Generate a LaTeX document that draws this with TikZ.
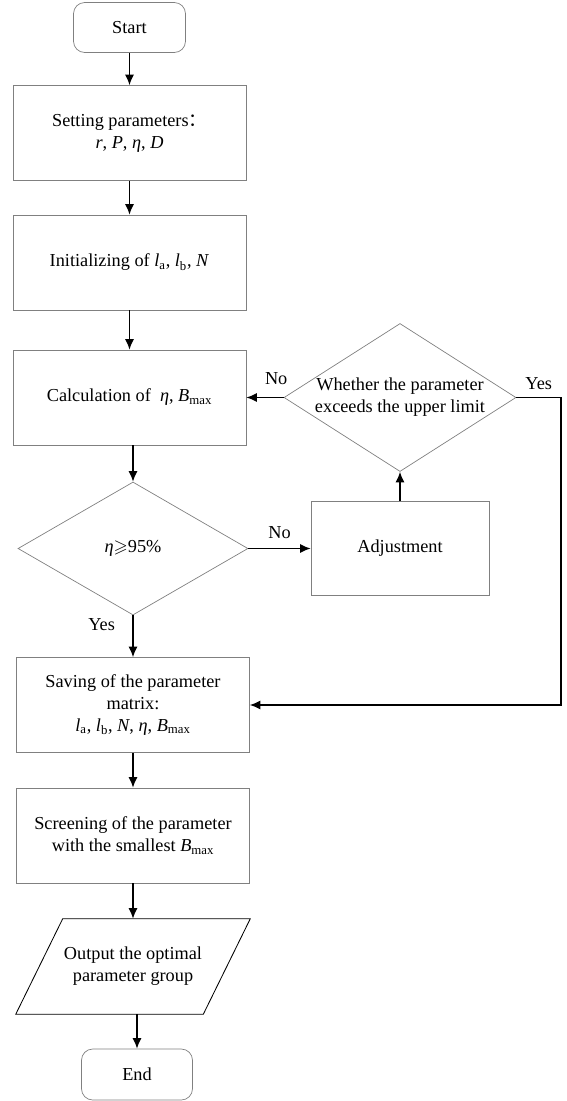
\documentclass[tikz,border=0pt]{standalone}
\usepackage{amssymb}
\usepackage{fontspec}
\setmainfont{Liberation Serif}
\newfontfamily\cjk{Noto Sans CJK SC}
\usetikzlibrary{arrows.meta,positioning,shapes.geometric}

\tikzset{
  startstop/.style={draw=gray, line width=0.5pt, rounded corners=8pt, minimum width=2.8cm, minimum height=1.25cm},
  process/.style={draw=gray, line width=0.5pt, minimum width=5.825cm, minimum height=2.375cm, align=center},
  decision/.style={draw=gray, line width=0.5pt, diamond, inner sep=0pt, align=center},
  iobody/.style={minimum width=4.675cm, minimum height=2.375cm, inner sep=0pt, align=center},
  flow/.style={->, line width=1pt}
}

\begin{document}
\begin{tikzpicture}[>={Latex[length=7.5pt,width=6.5pt]}, font=\fontsize{13}{15.6}\selectfont]
\useasboundingbox (0,0) rectangle (14.175,-27.525);
\node[startstop] (start) at (3.2375,-0.6875) {Start};
\node[process] (setpar) [node distance=2.6375cm, below of = start] {Setting parameters{\cjk ：}\\\textit{r}, \textit{P}, \textit{η}, \textit{D}};
\node[process] (init) [node distance=3.2375cm, below of = setpar] {Initializing of \textit{l}\textsubscript{a}, \textit{l}\textsubscript{b}, \textit{N}};
\node[process] (calc) [node distance=3.375cm, below of = init] {Calculation of \ \textit{η}, \textit{B}\textsubscript{max}};
\node[decision, minimum width=5.75cm, minimum height=3.325cm] (d1) [node distance=3.775cm, below of = calc, xshift=0.0875cm] {\textit{η}$\geqslant$95\%};
\node[process, minimum width=4.45cm, minimum height=2.35cm] (adjust) [node distance=6.675cm, right of = d1] {Adjustment};
\node[decision, aspect=1.57, minimum width=5.8cm, minimum height=3.7cm] (d2) [node distance=3.775cm, above of = adjust] {Whether the parameter\\exceeds the upper limit};
\node[process] (save) [node distance=3.9125cm, below of = d1] {Saving of the parameter\\matrix:\\\textit{l}\textsubscript{a}, \textit{l}\textsubscript{b}, \textit{N}, \textit{η}, \textit{B}\textsubscript{max}};
\node[process] (screen) [node distance=3.2625cm, below of = save] {Screening of the parameter\\with the smallest \textit{B}\textsubscript{max}};
\node[iobody] (output) [node distance=3.275cm, below of = screen] {Output the optimal\\parameter group};
\node[startstop, minimum width=2.775cm, minimum height=1.275cm] (end) [node distance=2.7cm, below of = output, xshift=0.1cm] {End};
\coordinate[node distance=4.025cm, right of = d2] (turn);

% parallelogram round the output text
\draw[line width=0.6pt] ([xshift=-0.5875cm]output.south west) -- ([xshift=-0.5875cm]output.south east)
  -- ([xshift=0.5875cm]output.north east) -- ([xshift=0.5875cm]output.north west) -- cycle;

\path[flow] (start) edge (setpar)
        (setpar) edge (init)
        (init) edge (calc)
        (d1.north |- calc.south) edge (d1.north)
        (d1) edge node [above=3pt] {No} (adjust)
        (d1) edge node [left=9pt, pos=0.23] {Yes} (save)
        (adjust) edge (d2)
        (d2) edge node [above=5pt, pos=0.2] {No} (calc)
        (save) edge (screen)
        (screen) edge (output)
        (end.north |- output.south) edge (end.north);
\draw[flow] (d2.east) -- node [above=2pt] {Yes} (turn) |- (save.east);
\end{tikzpicture}
\end{document}
